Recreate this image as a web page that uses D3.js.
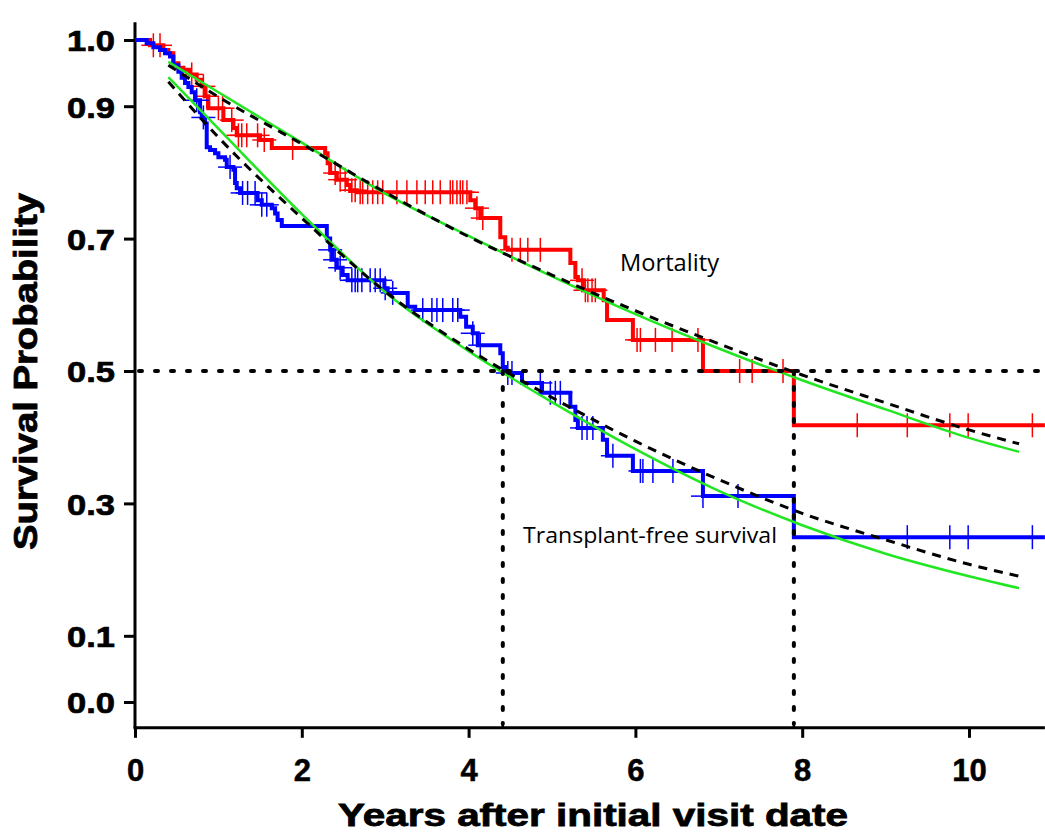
<!DOCTYPE html>
<html>
<head>
<meta charset="utf-8">
<script src="https://cdn.jsdelivr.net/npm/d3@7"></script>
<style>
  body { margin: 0; background: #fff; }
</style>
</head>
<body>
<div id="chart"></div>
<script>

// Kaplan-Meier steps: time (years) and survival after each drop
var mortTimes = [0, 0.18, 0.34, 0.40, 0.46, 0.52, 0.58, 0.66, 0.74, 0.80, 0.84, 0.88, 1.06, 1.18, 1.22, 1.50, 1.64,
                 2.28, 2.31, 2.34, 2.42, 2.54, 2.58, 2.66, 4.02, 4.08, 4.14, 4.38, 4.44, 4.47,
                 5.22, 5.28, 5.31, 5.37, 5.62, 5.66, 5.97, 6.81, 7.90];
var mortSurv  = [1.0, 0.992, 0.985, 0.98, 0.965, 0.958, 0.955, 0.948, 0.94, 0.93, 0.915, 0.897, 0.879, 0.867, 0.856, 0.849, 0.837,
                 0.829, 0.814, 0.799, 0.789, 0.781, 0.773, 0.770, 0.758, 0.746, 0.731, 0.702, 0.686, 0.683,
                 0.663, 0.642, 0.637, 0.622, 0.607, 0.577, 0.547, 0.500, 0.418];
var mortCensor = [0.22, 0.30, 0.68, 0.82, 0.86, 1.00, 1.05, 1.16, 1.24, 1.28, 1.34, 1.47, 1.55, 1.89,
                  2.40, 2.46, 2.52, 2.60, 2.64, 2.70, 2.73, 2.79, 2.85, 2.91, 2.97, 3.14, 3.26, 3.38, 3.48, 3.57, 3.66,
                  3.78, 3.81, 3.86, 3.90, 3.93, 3.98, 4.10, 4.17, 4.52, 4.62, 4.71, 4.86,
                  5.36, 5.40, 5.43, 5.48, 5.52, 6.02, 6.06, 6.24, 6.44, 6.75, 7.25, 7.40, 7.77,
                  8.66, 9.26, 9.77, 9.99, 10.76];

var tfsTimes = [0, 0.14, 0.22, 0.30, 0.36, 0.42, 0.46, 0.52, 0.56, 0.60, 0.64, 0.68, 0.72, 0.78, 0.80, 0.84, 0.86, 0.90, 0.96,
                1.00, 1.08, 1.10, 1.18, 1.20, 1.22, 1.26, 1.47, 1.52, 1.64, 1.68, 1.71, 1.76,
                2.30, 2.34, 2.37, 2.42, 2.49, 2.55, 2.99, 3.03, 3.27, 3.36, 3.90, 3.97, 4.05, 4.11,
                4.38, 4.41, 4.44, 4.64, 4.88, 5.22, 5.28, 5.31, 5.61, 5.66, 5.97, 6.81, 7.90];
var tfsSurv  = [1.0, 0.995, 0.989, 0.985, 0.98, 0.975, 0.962, 0.952, 0.943, 0.935, 0.929, 0.921, 0.909, 0.891, 0.883, 0.874, 0.838, 0.834, 0.829,
                0.823, 0.819, 0.808, 0.804, 0.784, 0.776, 0.769, 0.758, 0.751, 0.746, 0.738, 0.728, 0.719,
                0.70, 0.683, 0.668, 0.656, 0.645, 0.637, 0.625, 0.618, 0.597, 0.592, 0.582, 0.567, 0.557, 0.539,
                0.527, 0.506, 0.497, 0.482, 0.467, 0.446, 0.426, 0.414, 0.396, 0.372, 0.349, 0.311, 0.249];
var tfsCensor = [0.74, 0.82, 1.14, 1.29, 1.35, 1.44, 1.52, 1.58, 2.34, 2.40, 2.46, 2.60, 2.64, 2.67, 2.72, 2.82, 2.88, 2.94,
                 3.00, 3.09, 3.45, 3.56, 3.62, 3.69, 3.81, 3.87, 4.05, 4.14, 4.47, 4.52, 4.86, 4.98, 5.04, 5.10,
                 5.36, 5.42, 5.49, 5.73, 6.06, 6.09, 6.21, 6.45, 6.81, 7.23, 9.26, 9.77, 9.99, 10.76];

var endTime = 10.91;

// fitted curves (green solid and black dashed)
var fitTimes   = [0.4, 1, 2, 3, 4, 5, 6, 7, 8, 9, 10, 10.6];
var mortGreen  = [0.967, 0.921, 0.845, 0.768, 0.704, 0.643, 0.586, 0.534, 0.486, 0.442, 0.399, 0.378];
var mortDashed = [0.962, 0.914, 0.843, 0.770, 0.703, 0.645, 0.591, 0.541, 0.494, 0.452, 0.411, 0.390];
var tfsGreen   = [0.944, 0.866, 0.737, 0.619, 0.530, 0.453, 0.382, 0.319, 0.267, 0.224, 0.190, 0.172];
var tfsDashed  = [0.937, 0.853, 0.731, 0.620, 0.533, 0.460, 0.394, 0.336, 0.285, 0.245, 0.208, 0.190];

var medianLevel = 0.5;
var medians = [4.41, 7.90];

var xTicks = [0, 2, 4, 6, 8, 10];
var yTicks = [0.0, 0.1, 0.3, 0.5, 0.7, 0.9, 1.0];

var width = 1045, height = 836;
var boldFont = "Liberation Sans, Arial, sans-serif";

var svg = d3.select("#chart")
  .append("svg")
    .attr("width", width)
    .attr("height", height);

var x = d3.scaleLinear()
  .domain([0, 10])
  .range([135, 969]);

var y = d3.scaleLinear()
  .domain([0, 1])
  .range([702, 40]);

var yBottom = -0.039, yTop = 1.027;

// axis lines
svg.append("line")
  .attr("x1", x(0)).attr("x2", x(0))
  .attr("y1", y(yTop)).attr("y2", y(yBottom))
  .attr("stroke", "black").attr("stroke-width", 3);
svg.append("line")
  .attr("x1", x(0) - 1.5).attr("x2", x(endTime))
  .attr("y1", y(yBottom)).attr("y2", y(yBottom))
  .attr("stroke", "black").attr("stroke-width", 3);

// y axis
var axis_y = svg.append("g")
  .attr("transform", "translate(" + x(0) + ",0)")
  .call(d3.axisLeft(y).tickValues(yTicks).tickFormat(d3.format(".1f")).tickSize(11).tickPadding(9).tickSizeOuter(0));
axis_y.select(".domain").remove();
axis_y.selectAll(".tick line").attr("stroke", "black").attr("stroke-width", 3);
axis_y.selectAll(".tick text")
  .attr("font-size", 30)
  .attr("font-weight", "bold")
  .attr("font-family", boldFont)
  .attr("fill", "black")
  .attr("stroke", "black")
  .attr("stroke-width", 0.7)
  .attr("dy", "0.36em")
  .attr("textLength", 48)
  .attr("lengthAdjust", "spacingAndGlyphs");

// x axis
var axis_x = svg.append("g")
  .attr("transform", "translate(0," + y(yBottom) + ")")
  .call(d3.axisBottom(x).tickValues(xTicks).tickFormat(d3.format("d")).tickSize(10).tickSizeOuter(0));
axis_x.select(".domain").remove();
axis_x.selectAll(".tick line").attr("stroke", "black").attr("stroke-width", 3);
axis_x.selectAll(".tick text")
  .attr("font-size", 31)
  .attr("font-weight", "bold")
  .attr("font-family", boldFont)
  .attr("fill", "black")
  .attr("stroke", "black")
  .attr("stroke-width", 0.5)
  .attr("y", 53)
  .attr("dy", 0);

// small marks on x axis at the medians
svg.selectAll(".medtick")
  .data(medians)
  .enter().append("line")
  .attr("x1", function(d) { return x(d); })
  .attr("x2", function(d) { return x(d); })
  .attr("y1", y(yBottom))
  .attr("y2", y(yBottom) - 6)
  .attr("stroke", "black")
  .attr("stroke-width", 2.5);

// axis titles
svg.append("text")
  .attr("x", 338)
  .attr("y", 826)
  .attr("font-size", 32)
  .attr("font-weight", "bold")
  .attr("font-family", boldFont)
  .attr("stroke", "black")
  .attr("stroke-width", 0.8)
  .attr("textLength", 510)
  .attr("lengthAdjust", "spacingAndGlyphs")
  .text("Years after initial visit date");

svg.append("text")
  .attr("transform", "translate(37,550) rotate(-90)")
  .attr("font-size", 33)
  .attr("font-weight", "bold")
  .attr("font-family", boldFont)
  .attr("stroke", "black")
  .attr("stroke-width", 0.8)
  .attr("textLength", 357)
  .attr("lengthAdjust", "spacingAndGlyphs")
  .text("Survival Probability");

// KM curves
function stepData(times, surv) {
  var pts = times.map(function(t, i) { return {t: t, s: surv[i]}; });
  pts.push({t: endTime, s: surv[surv.length - 1]});
  return pts;
}
function survAt(times, surv, t) {
  var s = surv[0];
  for (var i = 0; i < times.length; i++) { if (times[i] <= t) s = surv[i]; }
  return s;
}

var stepLine = d3.line()
  .curve(d3.curveStepAfter)
  .x(function(d) { return x(d.t); })
  .y(function(d) { return y(d.s); });

function drawKM(times, surv, censor, color) {
  svg.append("path")
    .datum(stepData(times, surv))
    .attr("fill", "none")
    .attr("stroke", color)
    .attr("stroke-width", 4)
    .attr("d", stepLine);

  var g = svg.append("g");
  censor.forEach(function(t) {
    var cx = x(t), cy = y(survAt(times, surv, t));
    g.append("line").attr("x1", cx).attr("x2", cx).attr("y1", cy - 12).attr("y2", cy + 12)
      .attr("stroke", color).attr("stroke-width", 1.5);
    g.append("line").attr("x1", cx - 12).attr("x2", cx + 12).attr("y1", cy).attr("y2", cy)
      .attr("stroke", color).attr("stroke-width", 1.5);
  });
}

drawKM(mortTimes, mortSurv, mortCensor, "#ff0000");
drawKM(tfsTimes, tfsSurv, tfsCensor, "#0000ff");

// fitted curves
function fitPath(vals, color, dash, w) {
  svg.append("path")
    .datum(fitTimes.map(function(t, i) { return {t: t, s: vals[i]}; }))
    .attr("fill", "none")
    .attr("stroke", color)
    .attr("stroke-width", w)
    .style("stroke-dasharray", dash)
    .attr("d", d3.line()
      .curve(d3.curveMonotoneX)
      .x(function(d) { return x(d.t); })
      .y(function(d) { return y(d.s); }));
}
fitPath(mortGreen, "#22e622", null, 2.5);
fitPath(tfsGreen, "#22e622", null, 2.5);
fitPath(mortDashed, "black", "9, 7", 3);
fitPath(tfsDashed, "black", "9, 7", 3);

// median reference lines
svg.append("line")
  .attr("x1", x(0) + 4).attr("x2", x(endTime))
  .attr("y1", y(medianLevel)).attr("y2", y(medianLevel))
  .attr("stroke", "black").attr("stroke-width", 4)
  .attr("stroke-linecap", "round")
  .style("stroke-dasharray", "3, 13");
svg.selectAll(".medline")
  .data(medians)
  .enter().append("line")
  .attr("x1", function(d) { return x(d); })
  .attr("x2", function(d) { return x(d); })
  .attr("y1", y(medianLevel))
  .attr("y2", y(yBottom) - 4)
  .attr("stroke", "black").attr("stroke-width", 4)
  .attr("stroke-linecap", "round")
  .style("stroke-dasharray", "3, 13");

// curve labels
svg.append("text")
  .attr("x", 620).attr("y", 271)
  .attr("font-size", 24)
  .attr("font-family", "Open Sans, Noto Sans, sans-serif")
  .attr("textLength", 99)
  .attr("lengthAdjust", "spacingAndGlyphs")
  .text("Mortality");
svg.append("text")
  .attr("x", 523).attr("y", 543)
  .attr("font-size", 21)
  .attr("font-family", "Open Sans, Noto Sans, sans-serif")
  .attr("textLength", 254)
  .attr("lengthAdjust", "spacingAndGlyphs")
  .text("Transplant-free survival");

</script>
</body>
</html>
